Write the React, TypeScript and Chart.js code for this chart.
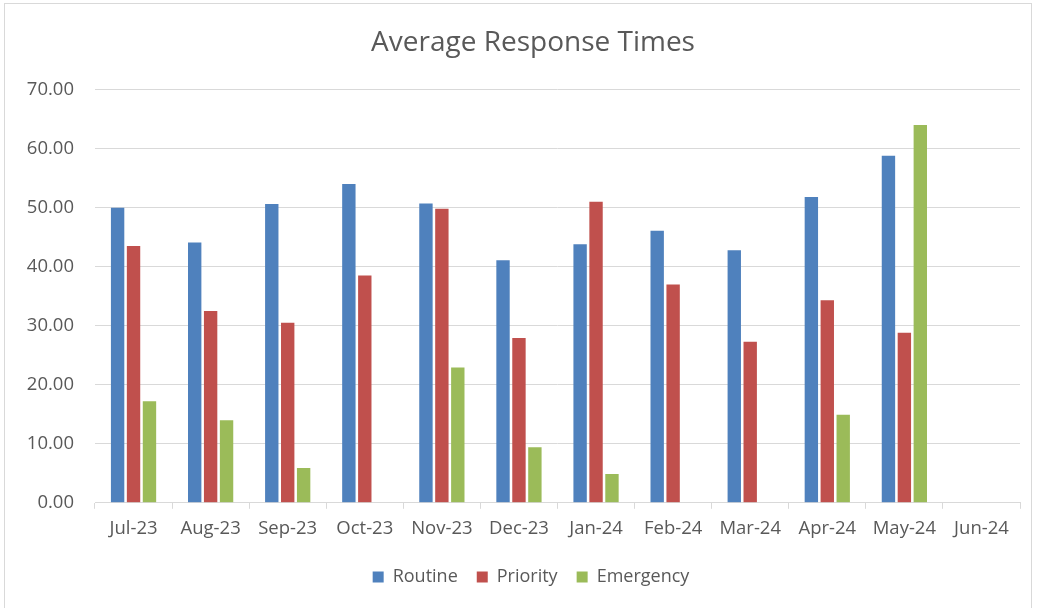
import React, { useEffect, useRef } from "react";
import { Chart, registerables } from "chart.js";

Chart.register(...registerables);

const categories = ["Jul-23", "Aug-23", "Sep-23", "Oct-23", "Nov-23", "Dec-23", "Jan-24", "Feb-24", "Mar-24", "Apr-24", "May-24", "Jun-24"];
const routine = [50.0, 44.1, 50.6, 54.0, 50.7, 41.1, 43.8, 46.1, 42.8, 51.8, 58.8, null];
const priority = [43.5, 32.5, 30.5, 38.5, 49.8, 27.9, 51.0, 37.0, 27.3, 34.3, 28.8, null];
const emergency = [17.2, 14.0, 5.9, null, 22.9, 9.4, 4.9, null, null, 14.9, 64.0, null];
const chartTitle = "Average Response Times";

const FONT = "'Open Sans', sans-serif";
const TEXT = "#595959";
const GRID = "#d9d9d9";

// Shifts title and legend horizontally so they are centred like the reference.
const shiftBoxes = {
  id: "shiftBoxes",
  afterLayout(chart: any) {
    const t = chart.titleBlock;
    if (t) { t.left += 23; t.right += 23; }
    const l = chart.legend;
    if (l) { l.left += 21; l.right += 21; }
  },
};

export default function App() {
  const ref = useRef<HTMLCanvasElement>(null);
  useEffect(() => {
    document.body.style.margin = "0";
    const chart = new Chart(ref.current!, {
      type: "bar",
      data: {
        labels: categories,
        datasets: [
          { label: "Routine", data: routine, backgroundColor: "#4F81BD" },
          { label: "Priority", data: priority, backgroundColor: "#C0504D" },
          { label: "Emergency", data: emergency, backgroundColor: "#9BBB59" },
        ],
      },
      plugins: [shiftBoxes],
      options: {
        responsive: false,
        animation: false,
        maintainAspectRatio: false,
        datasets: { bar: { categoryPercentage: 0.62, barPercentage: 0.84 } },
        layout: { padding: { left: 0, right: 22, top: 0, bottom: 12 } },
        plugins: {
          title: {
            display: true,
            text: chartTitle,
            color: TEXT,
            font: { family: FONT, size: 28, weight: "normal" },
            padding: { top: 26, bottom: 30 },
          },
          legend: {
            position: "bottom",
            labels: {
              color: TEXT,
              font: { family: FONT, size: 18 },
              boxWidth: 11,
              boxHeight: 11,
              padding: 19,
            },
          },
          tooltip: { enabled: false },
        },
        scales: {
          x: {
            grid: { display: true, drawOnChartArea: false, drawTicks: true, tickLength: 6, color: GRID, offset: true },
            border: { display: true, color: GRID },
            ticks: { color: TEXT, font: { family: FONT, size: 18.5 }, padding: 9, maxRotation: 0 },
          },
          y: {
            min: 0,
            max: 70,
            afterFit: (s: any) => { s.width = 95; },
            grid: { color: GRID, drawTicks: false },
            border: { display: false },
            ticks: {
              stepSize: 10,
              color: TEXT,
              padding: 21,
              font: { family: FONT, size: 18.5 },
              callback: (v: any) => Number(v).toFixed(2),
            },
          },
        },
      },
    });
    return () => chart.destroy();
  }, []);
  return (
    <div style={{ position: "relative", width: 1042, height: 608, background: "#fff" }}>
      <canvas ref={ref} width={1042} height={608} style={{ position: "absolute", left: 0, top: 0 }} />
      <div style={{ position: "absolute", left: 4, top: 3, width: 1026, height: 610, border: "1px solid #d9d9d9", pointerEvents: "none" }} />
    </div>
  );
}
